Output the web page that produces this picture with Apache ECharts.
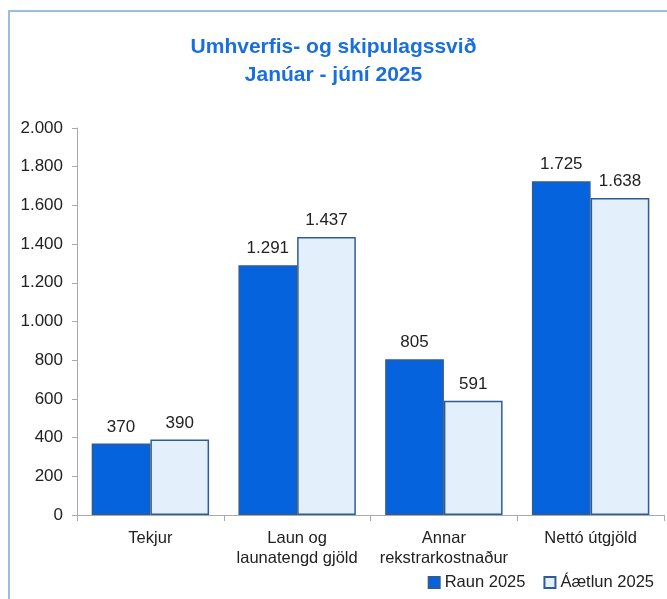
<!DOCTYPE html>
<html>
<head>
<meta charset="utf-8" />
<title>Umhverfis- og skipulagssvið</title>
<script src="https://cdn.jsdelivr.net/npm/echarts@6/dist/echarts.min.js"></script>
<style>
	html,body{margin:0;padding:0;background:#fff;}
	#frame{
		position:absolute;left:8px;top:10px;width:700px;height:640px;
		border-top:2px solid #9dbbe3;border-left:2px solid #9dbbe3;
	}
	#chart{position:absolute;left:0;top:0;width:667px;height:599px;}
</style>
</head>
<body>
<div id="frame"></div>
<div id="chart"></div>
<script type="text/javascript">
var categories = ['Tekjur', 'Laun og\nlaunatengd gjöld', 'Annar\nrekstrarkostnaður', 'Nettó útgjöld'];
var raun2025 = [370, 1291, 805, 1725];
var aaetlun2025 = [390, 1437, 591, 1638];
var seriesNames = ['Raun 2025', 'Áætlun 2025'];

function fmt(v) {
	return String(v).replace(/\B(?=(\d{3})+(?!\d))/g, '.');
}

var font = '"Liberation Sans", "DejaVu Sans", sans-serif';
var myChart = echarts.init(document.getElementById('chart'), null, {renderer: 'canvas'});
var option = {
	backgroundColor: 'transparent',
	animation: false,
	title: {
		text: 'Umhverfis- og skipulagssvið\nJanúar - júní 2025',
		left: 'center',
		top: 28,
		textStyle: {
			color: '#1a6fe0', fontSize: 21, fontWeight: 'bold',
			fontFamily: font, lineHeight: 28
		}
	},
	legend: {
		data: seriesNames,
		right: 8,
		bottom: 3,
		icon: 'rect',
		itemWidth: 11,
		itemHeight: 11,
		itemGap: 18,
		textStyle: {fontSize: 16.5, color: '#222', fontFamily: font}
	},
	grid: {left: 77, right: 3, top: 128, bottom: 84},
	xAxis: {
		type: 'category',
		data: categories,
		axisLine: {lineStyle: {color: '#aaaaaa'}},
		axisTick: {show: true, length: 6, lineStyle: {color: '#aaaaaa'}},
		axisLabel: {
			fontSize: 16.5, color: '#222', fontFamily: font,
			lineHeight: 20, margin: 13, interval: 0
		}
	},
	yAxis: {
		type: 'value',
		min: 0,
		max: 2000,
		interval: 200,
		splitLine: {show: false},
		axisLine: {show: true, lineStyle: {color: '#aaaaaa'}},
		axisTick: {show: true, length: 5, lineStyle: {color: '#aaaaaa'}},
		axisLabel: {
			fontSize: 17, color: '#222', fontFamily: font, margin: 14,
			formatter: function (v) { return fmt(v); }
		}
	},
	series: [
		{
			name: seriesNames[0],
			type: 'bar',
			data: raun2025,
			barWidth: '40%',
			barGap: '0%',
			itemStyle: {color: '#0563dd', borderColor: '#2e5c99', borderWidth: 1.5},
			label: {
				show: true, position: 'top', distance: 8,
				fontSize: 17, color: '#222', fontFamily: font,
				formatter: function (p) { return fmt(p.value); }
			}
		},
		{
			name: seriesNames[1],
			type: 'bar',
			data: aaetlun2025,
			barWidth: '40%',
			itemStyle: {color: '#e4effc', borderColor: '#2e5c99', borderWidth: 1.5},
			label: {
				show: true, position: 'top', distance: 8,
				fontSize: 17, color: '#222', fontFamily: font,
				formatter: function (p) { return fmt(p.value); }
			}
		}
	]
};
myChart.setOption(option);
</script>
</body>
</html>
